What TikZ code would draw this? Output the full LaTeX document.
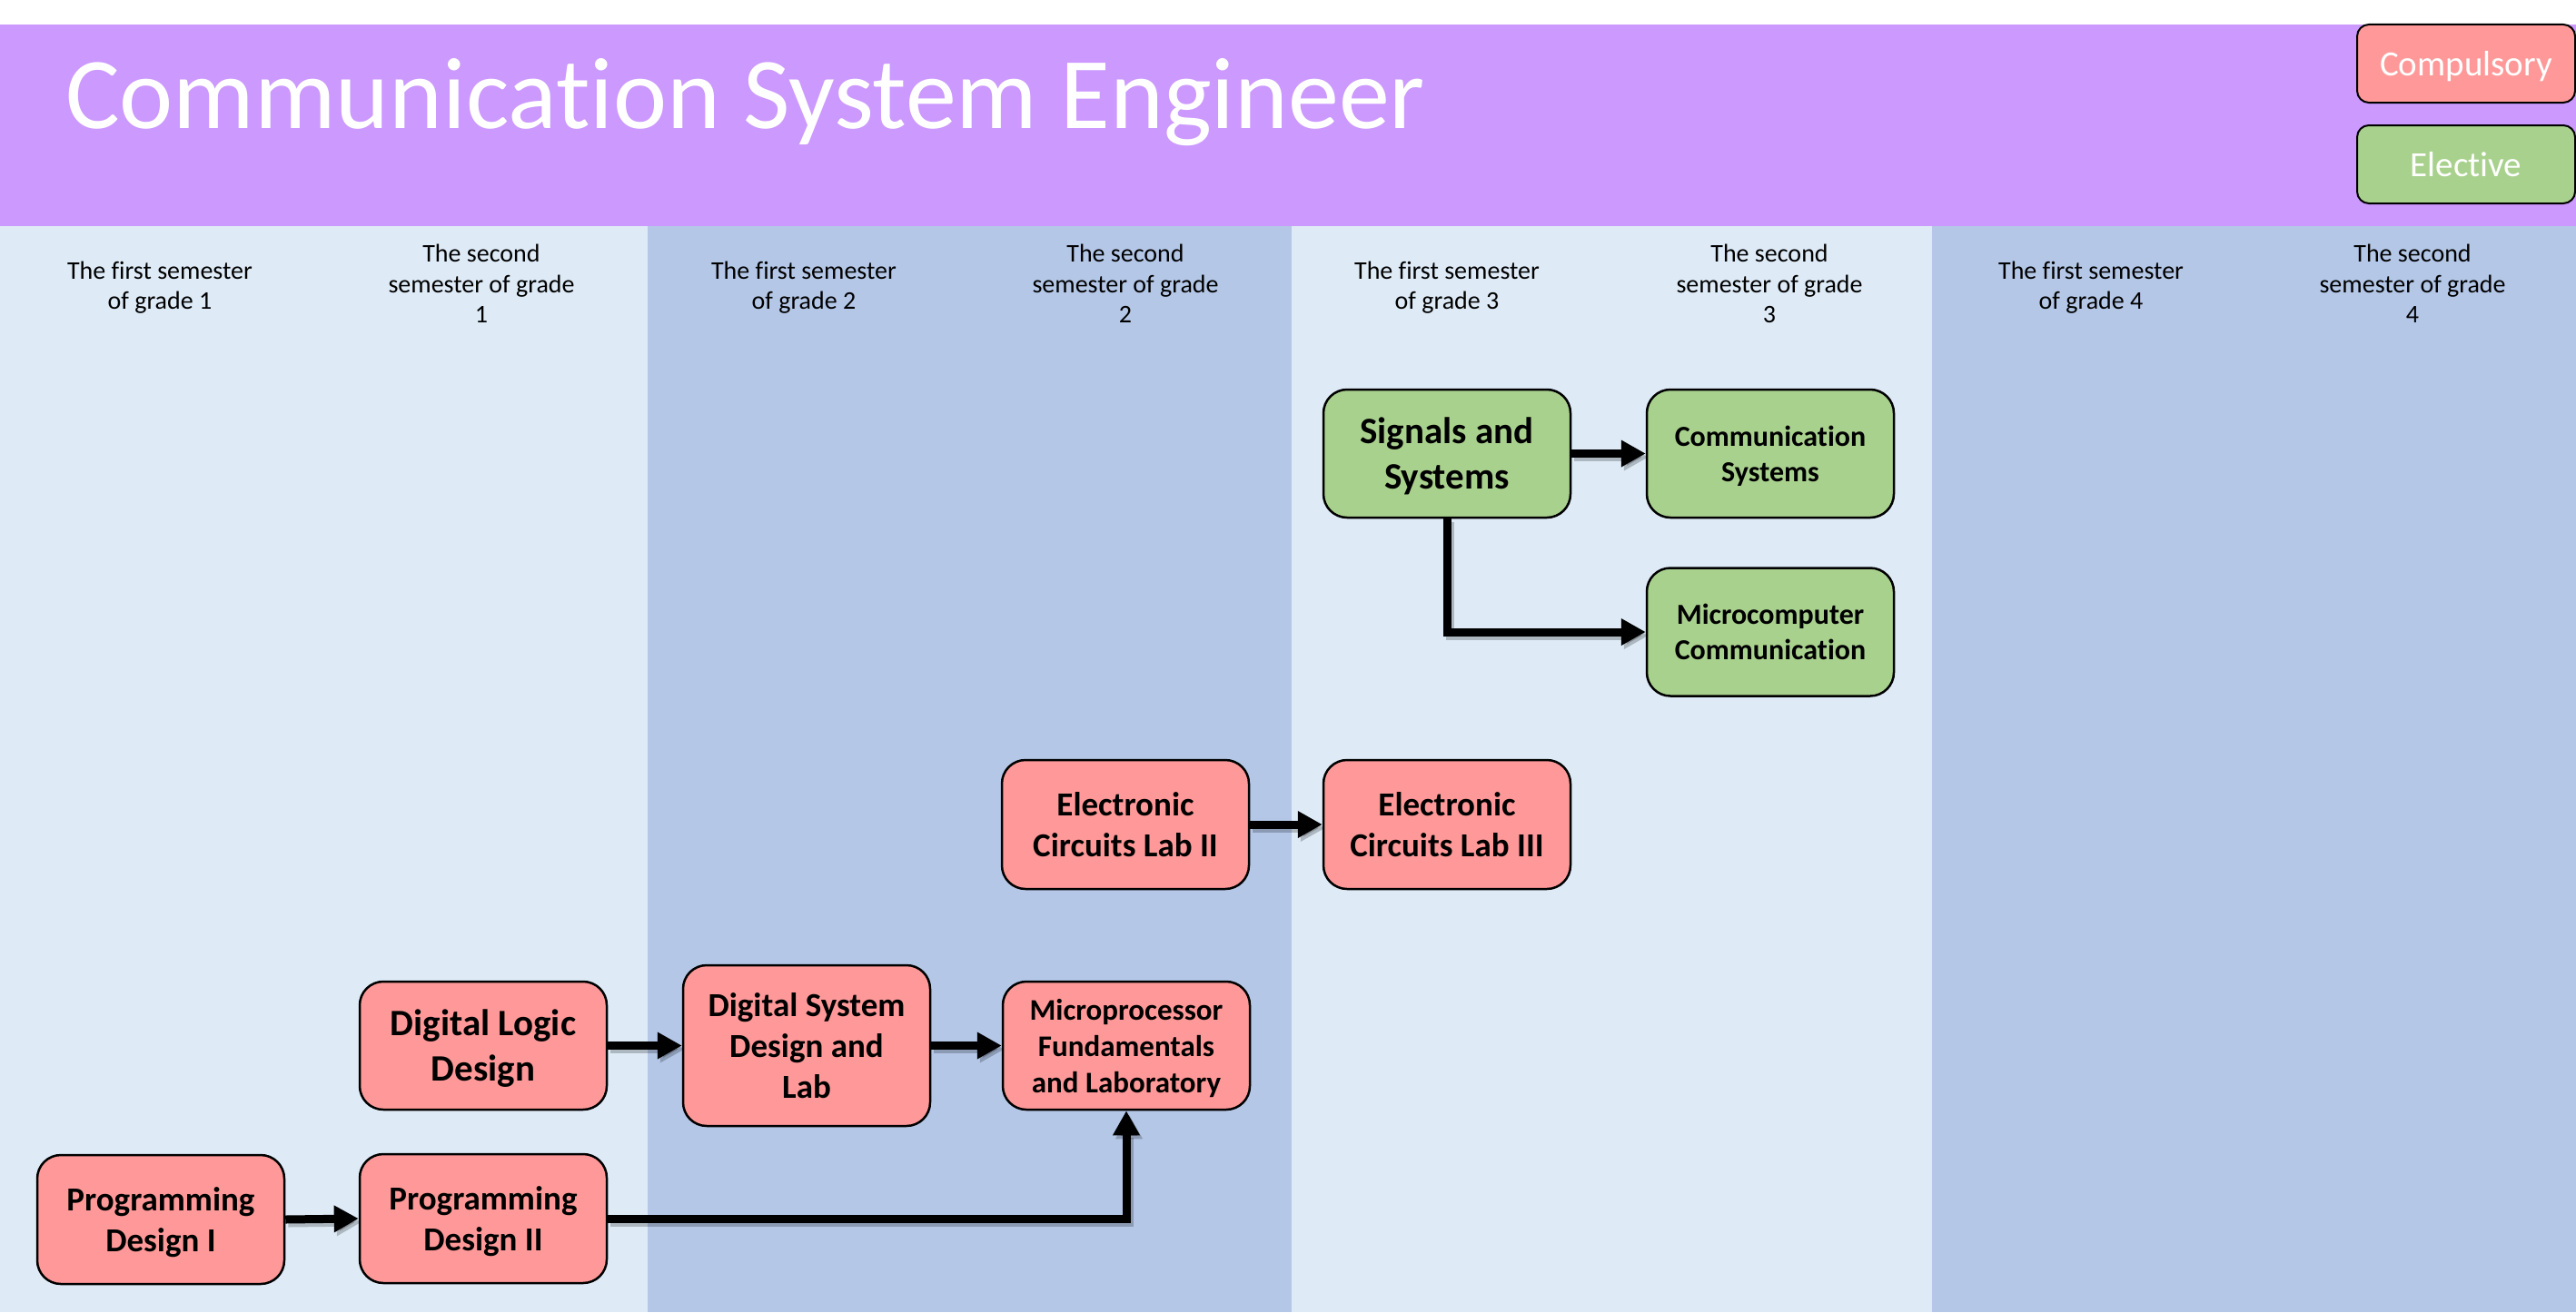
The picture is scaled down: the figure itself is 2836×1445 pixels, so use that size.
\documentclass[tikz,border=0pt]{standalone}
\usepackage{fontspec}
\setmainfont[Ligatures=NoCommon]{Carlito}
\usetikzlibrary{arrows.meta}
\definecolor{hdrc}{HTML}{CC99FF}
\definecolor{colAc}{HTML}{DEEBF7}
\definecolor{colBc}{HTML}{B4C7E7}
\definecolor{reqc}{HTML}{FF9999}
\definecolor{elec}{HTML}{A9D18E}
\begin{document}
\begin{tikzpicture}[x=1pt,y=-1pt,
  course/.style={draw=black, line width=2.5pt, rounded corners=26pt,
    minimum width=272pt, minimum height=142pt, align=center, inner sep=0pt,
    text depth=0pt},
  reqbox/.style={course, fill=reqc},
  elebox/.style={course, fill=elec},
  fA/.style={font=\fontsize{41}{50}\selectfont\bfseries},
  fB/.style={font=\fontsize{37}{45}\selectfont\bfseries},
  fC/.style={font=\fontsize{33}{40}\selectfont\bfseries},
  fD/.style={font=\fontsize{32}{39}\selectfont\bfseries},
  legbox/.style={draw=black, line width=2pt, rounded corners=13pt,
    minimum width=240pt, minimum height=86pt, text=white, inner sep=0pt,
    text depth=0pt, font=\fontsize{39}{47}\selectfont},
  semlab/.style={align=center, inner sep=0pt, font=\fontsize{28}{33.5}\selectfont},
  conn/.style={draw=black, line width=9pt, -{Triangle[length=27pt,width=28pt]}},
  connshadow/.style={conn, draw=black, opacity=0.22}
]
\useasboundingbox (0,0) rectangle (2836,1445);
\fill[white] (0,0) rectangle (2836,1445);
% header
\fill[hdrc] (0,27) rectangle (2836,249);
% year columns
\fill[colAc] (0,249) rectangle (712.6,1445);
\fill[colBc] (712.6,249) rectangle (1421.6,1445);
\fill[colAc] (1421.6,249) rectangle (2127,1445);
\fill[colBc] (2127,249) rectangle (2836,1445);

% title
\node[anchor=base west, text=white, inner sep=0pt,
  font=\fontsize{112}{134}\selectfont] (title) at (72,141) {Communication System Engineer};

% legend
\node[legbox, fill=reqc] (legreq) at (2715,70) {Compulsory};
\node[legbox, fill=elec] (legele) at (2715,181) {Elective};

% semester labels
\node[semlab] (s11) at (176,316.6) {The first semester\\of grade 1};
\node[semlab] (s12) at (530,312.7) {The second\\semester of grade\\1};
\node[semlab] (s21) at (885,316.6) {The first semester\\of grade 2};
\node[semlab] (s22) at (1239,312.7) {The second\\semester of grade\\2};
\node[semlab] (s31) at (1593,316.6) {The first semester\\of grade 3};
\node[semlab] (s32) at (1948,312.7) {The second\\semester of grade\\3};
\node[semlab] (s41) at (2302,316.6) {The first semester\\of grade 4};
\node[semlab] (s42) at (2656,312.7) {The second\\semester of grade\\4};

% courses
\node[reqbox, fB] (pd1) at (177,1343) {Programming\\Design I};
\node[reqbox, fB] (pd2) at (532,1342) {Programming\\Design II};
\node[reqbox, fA, minimum height=141pt] (dld) at (532,1151.5) {Digital Logic\\Design};
\node[reqbox, fB, minimum height=177pt] (dsd) at (888,1151.5) {Digital System\\Design and\\Lab};
\node[reqbox, fC, minimum height=141pt] (mic) at (1240,1151.5) {Microprocessor\\Fundamentals\\and Laboratory};
\node[reqbox, fB] (ecl2) at (1239,908) {Electronic\\Circuits Lab II};
\node[reqbox, fB] (ecl3) at (1593,908) {Electronic\\Circuits Lab III};
\node[elebox, fA, minimum height=141pt] (ss) at (1593,499.5) {Signals and\\Systems};
\node[elebox, fD, minimum height=141pt] (cs) at (1949,499.5) {Communication\\Systems};
\node[elebox, fD, minimum height=141pt] (mc) at (1949,696) {Microcomputer\\Communication};

% connector shadows
\begin{scope}[transform canvas={shift={(3,4)}}]
\draw[connshadow] (pd1.east) -- (pd2.west);
\draw[connshadow] (dld.east) -- (dsd.west);
\draw[connshadow] (dsd.east) -- (mic.west);
\draw[connshadow] (pd2.east) -| (mic.south);
\draw[connshadow] (ecl2.east) -- (ecl3.west);
\draw[connshadow] (ss.east) -- (cs.west);
\draw[connshadow] (ss.south) |- (mc.west);
\end{scope}
% connectors
\draw[conn] (pd1.east) -- (pd2.west);
\draw[conn] (dld.east) -- (dsd.west);
\draw[conn] (dsd.east) -- (mic.west);
\draw[conn] (pd2.east) -| (mic.south);
\draw[conn] (ecl2.east) -- (ecl3.west);
\draw[conn] (ss.east) -- (cs.west);
\draw[conn] (ss.south) |- (mc.west);
\end{tikzpicture}
\end{document}
